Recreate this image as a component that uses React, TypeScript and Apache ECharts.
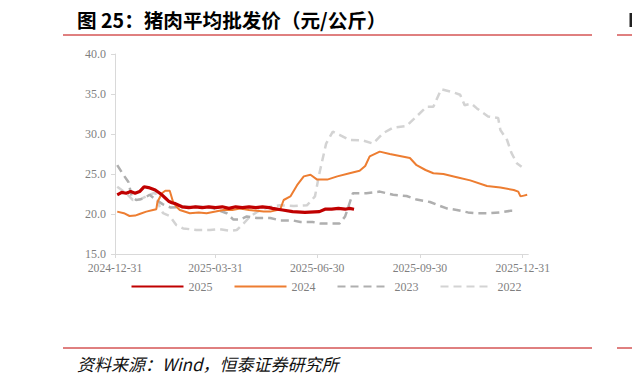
import React, { useEffect, useRef } from "react";
import * as echarts from "echarts";

// x positions are day offsets from 2024-12-31
const tickDays = [0, 90, 181, 273, 365];
const tickLabels = ["2024-12-31", "2025-03-31", "2025-06-30", "2025-09-30", "2025-12-31"];
const seriesNames = ["2025", "2024", "2023", "2022"];

const days2025 = [2, 6, 10, 14, 18, 22, 26, 30, 36, 42, 45, 48, 51, 54, 57, 60, 66, 72, 78, 84, 90, 96, 102, 108, 114, 120, 126, 132, 138, 141, 150, 159, 170, 183, 188, 194, 200, 206, 210, 214];
const vals2025 = [22.4, 22.7, 22.6, 22.8, 22.6, 22.8, 23.4, 23.3, 23.0, 22.4, 22.0, 21.6, 21.4, 21.3, 21.1, 20.9, 20.8, 20.9, 20.8, 20.9, 20.8, 20.9, 20.7, 20.9, 20.8, 20.9, 20.8, 20.9, 20.8, 20.7, 20.5, 20.3, 20.2, 20.3, 20.6, 20.6, 20.7, 20.6, 20.7, 20.6];

const days2024 = [2, 8, 13, 18, 22, 28, 34, 37, 38, 42, 45, 49, 52, 55, 58, 67, 75, 82, 90, 97, 105, 112, 120, 127, 133, 139, 148, 151, 157, 163, 169, 175, 181, 190, 199, 210, 219, 224, 228, 237, 246, 255, 264, 270, 278, 285, 294, 306, 318, 333, 345, 357, 361, 363, 366, 369];
const vals2024 = [20.3, 20.1, 19.75, 19.8, 20.0, 20.3, 20.5, 20.6, 21.5, 22.6, 22.9, 22.9, 21.5, 20.9, 20.5, 20.1, 20.2, 20.1, 20.3, 20.5, 20.5, 20.7, 20.5, 20.4, 20.3, 20.3, 20.6, 21.75, 22.2, 23.6, 24.7, 24.9, 24.3, 24.3, 24.7, 25.1, 25.4, 26.0, 27.2, 27.8, 27.5, 27.25, 27.0, 26.1, 25.5, 25.1, 25.0, 24.6, 24.2, 23.5, 23.3, 23.0, 22.8, 22.2, 22.3, 22.4];

const days2023 = [2, 7, 12, 15, 19, 25, 31, 37, 43, 50, 61, 72, 82, 88, 100, 106, 112, 118, 127, 139, 148, 159, 166, 177, 184, 193, 201, 206, 213, 225, 237, 249, 261, 270, 282, 291, 297, 306, 316, 324, 336, 345, 354, 359];
const vals2023 = [26.1, 25.0, 24.0, 22.2, 21.75, 21.9, 22.4, 21.75, 21.2, 20.8, 20.9, 20.9, 20.9, 20.7, 20.1, 19.3, 19.3, 19.7, 19.5, 19.5, 19.2, 19.2, 19.0, 19.0, 18.8, 18.8, 18.8, 19.7, 22.6, 22.6, 22.8, 22.4, 22.25, 21.8, 21.5, 21.0, 20.7, 20.5, 20.2, 20.1, 20.1, 20.2, 20.4, 20.4];

const days2022 = [2, 10, 16, 22, 28, 36, 40, 43, 49, 55, 61, 73, 85, 94, 103, 109, 115, 121, 130, 139, 148, 160, 172, 179, 183, 189, 195, 201, 210, 222, 231, 240, 249, 261, 270, 279, 285, 292, 303, 309, 313, 319, 324, 334, 343, 345, 351, 355, 360, 364];
const vals2022 = [23.4, 22.6, 21.75, 21.8, 22.2, 22.7, 20.9, 20.1, 19.75, 18.6, 18.2, 18.0, 18.0, 18.1, 17.9, 18.0, 18.8, 19.7, 20.5, 20.9, 21.1, 21.0, 21.1, 22.2, 25.1, 28.8, 30.3, 29.9, 29.25, 29.2, 28.8, 30.1, 30.8, 31.0, 32.2, 33.4, 33.4, 35.6, 35.2, 34.9, 33.6, 33.8, 33.2, 32.2, 32.0, 30.5, 29.25, 27.6, 26.3, 25.9];

const zip = (d: number[], v: number[]) => d.map((x, i) => [x, v[i]]);

export default function App() {
  const ref = useRef<HTMLDivElement>(null);
  useEffect(() => {
    if (!ref.current) return;
    const chart = echarts.init(ref.current, undefined, { renderer: "svg" });
    const axisGray = "#D9D9D9";
    const labelGray = "#7F7F7F";
    const serif = "'Liberation Serif', 'Times New Roman', serif";
    const cjk = "'Noto Sans CJK SC', sans-serif";
    chart.setOption({
      animation: false,
      backgroundColor: "#ffffff",
      grid: { left: 115, top: 54, width: 413.3, height: 200, outerBoundsMode: "none" },
      xAxis: {
        type: "value",
        min: 0,
        max: 370,
        splitLine: { show: false },
        axisLine: { show: true, lineStyle: { color: axisGray, width: 1 } },
        axisTick: { show: true, length: 4, lineStyle: { color: axisGray }, customValues: tickDays },
        axisLabel: {
          customValues: tickDays,
          margin: 8,
          color: labelGray,
          fontFamily: serif,
          fontSize: 11.7,
          formatter: (v: number) => {
            const i = tickDays.indexOf(Math.round(v));
            return i >= 0 ? tickLabels[i] : "";
          },
        },
      },
      yAxis: {
        type: "value",
        min: 15,
        max: 40,
        interval: 5,
        splitLine: { show: false },
        axisLine: { show: true, lineStyle: { color: axisGray, width: 1 } },
        axisTick: { show: true, length: 4, lineStyle: { color: axisGray } },
        axisLabel: {
          margin: 9,
          color: labelGray,
          fontFamily: serif,
          fontSize: 12,
          formatter: (v: number) => v.toFixed(1),
        },
      },
      legend: {
        data: seriesNames,
        left: 130.5,
        top: 280.5,
        padding: 0,
        itemWidth: 52,
        itemHeight: 14,
        itemGap: 21,
        itemStyle: { opacity: 0 },
        textStyle: { color: labelGray, fontFamily: serif, fontSize: 12 },
      },
      series: [
        {
          name: seriesNames[3],
          type: "line",
          symbol: "none",
          data: zip(days2022, vals2022),
          lineStyle: { color: "#D3D3D3", width: 2.5, type: [8, 5] },
          itemStyle: { color: "#D3D3D3" },
          z: 1,
        },
        {
          name: seriesNames[2],
          type: "line",
          symbol: "none",
          data: zip(days2023, vals2023),
          lineStyle: { color: "#AFAFAF", width: 2.5, type: [8, 5] },
          itemStyle: { color: "#AFAFAF" },
          z: 2,
        },
        {
          name: seriesNames[1],
          type: "line",
          symbol: "none",
          data: zip(days2024, vals2024),
          lineStyle: { color: "#ED7D31", width: 2 },
          itemStyle: { color: "#ED7D31" },
          z: 3,
        },
        {
          name: seriesNames[0],
          type: "line",
          symbol: "none",
          data: zip(days2025, vals2025),
          lineStyle: { color: "#C00000", width: 3.2 },
          itemStyle: { color: "#C00000" },
          z: 4,
        },
      ],
      graphic: [
        {
          type: "text",
          left: 77,
          top: 10,
          style: { text: "图 25：猪肉平均批发价（元/公斤）", fill: "#000", font: `bold 19.6px ${cjk}` },
        },
        { type: "rect", shape: { x: 629.5, y: 13, width: 2.5, height: 14 }, style: { fill: "#222" } },
        { type: "line", shape: { x1: 63, y1: 35, x2: 592, y2: 35 }, style: { stroke: "#C00000", lineWidth: 1 } },
        { type: "line", shape: { x1: 617, y1: 35, x2: 632, y2: 35 }, style: { stroke: "#C00000", lineWidth: 1 } },
        { type: "line", shape: { x1: 63, y1: 348, x2: 592, y2: 348 }, style: { stroke: "#C00000", lineWidth: 1 } },
        { type: "line", shape: { x1: 617, y1: 348, x2: 632, y2: 348 }, style: { stroke: "#C00000", lineWidth: 1 } },
        {
          type: "text",
          left: 77,
          top: 355,
          style: { text: "资料来源：Wind，恒泰证券研究所", fill: "#111", font: `italic 17px ${cjk}` },
        },
      ],
    });
    return () => chart.dispose();
  }, []);
  return <div ref={ref} style={{ position: "fixed", left: 0, top: 0, width: 632, height: 386 }} />;
}
